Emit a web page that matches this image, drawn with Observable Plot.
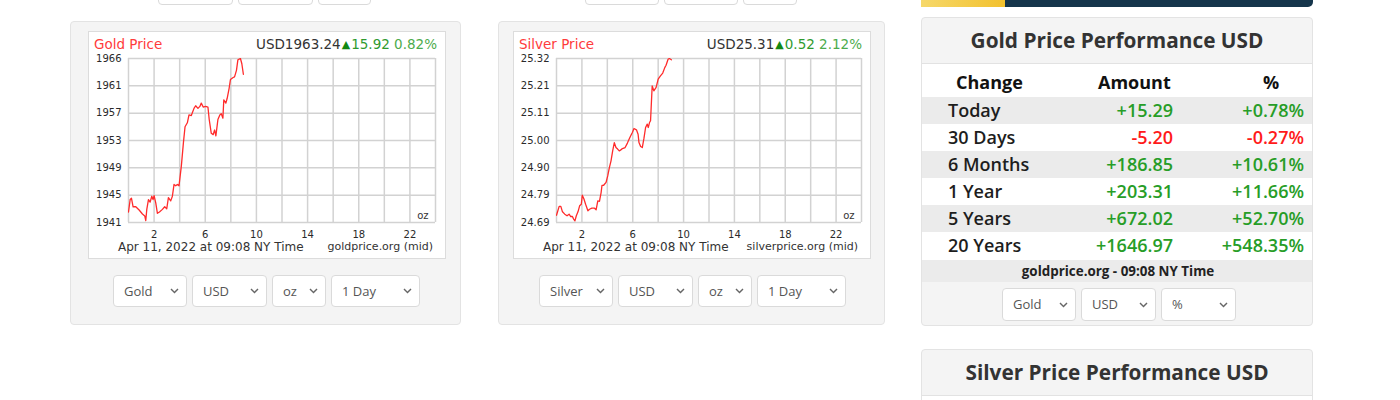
<!DOCTYPE html>
<html><head><meta charset="utf-8">
<script src="https://cdn.jsdelivr.net/npm/d3@7"></script>
<script src="https://cdn.jsdelivr.net/npm/@observablehq/plot@0.6"></script>
<style>
html,body{margin:0;padding:0;background:#fff}
body{font-family:"Open Sans",sans-serif;width:1400px;height:400px;overflow:hidden;position:relative}
.abs{position:absolute;white-space:nowrap}
.panel{position:absolute;background:#f4f4f4;border:1px solid #e3e3e3;border-radius:4px;box-sizing:border-box}
.sel{position:absolute;background:#fff;border:1px solid #dadada;border-radius:4px;box-sizing:border-box;font-size:13px;color:#555}
.sel span{position:absolute;left:10px;top:0}
.sel svg{position:absolute;right:7px}
.chartbox{position:absolute;background:#fff;box-shadow:0 0 0 1px #dcdcdc;width:356px;height:226px}
.chartbox svg.plot{position:absolute;left:0;top:0}
.ct{position:absolute;white-space:nowrap;font-family:"DejaVu Sans",Verdana,sans-serif;line-height:16px}
.row{position:absolute;left:0;width:392px;height:27px;line-height:27px;font-size:18px;font-weight:600;color:#1d1d1d}
.row .c{position:absolute;white-space:nowrap}
</style></head>
<body>
<script>
// ---------- data ----------
const goldHours = [0,0.13,0.23,0.36,0.57,0.83,1.09,1.27,1.35,1.43,1.56,1.69,1.82,1.92,2.0,2.13,2.26,2.42,2.65,2.83,2.99,3.12,3.30,3.43,3.56,3.69,3.82,3.95,4.13,4.29,4.42,4.6,4.73,4.91,5.12,5.25,5.43,5.58,5.69,5.84,6.03,6.21,6.31,6.47,6.62,6.73,6.83,6.99,7.14,7.25,7.38,7.45,7.61,7.71,7.87,7.97,8.18,8.29,8.44,8.55,8.75,8.86,8.98];
const goldPrices = [1942.6,1944.5,1944.7,1943.4,1943.4,1942.9,1942.3,1942.0,1941.3,1943.0,1944.5,1944.1,1945.0,1944.5,1945.1,1944.0,1942.4,1942.6,1943.0,1943.4,1943.1,1944.8,1944.3,1945.0,1946.8,1946.6,1946.8,1946.6,1949.6,1953.1,1955.6,1956.2,1957.4,1957.3,1958.4,1958.8,1958.4,1958.7,1959.2,1958.6,1958.7,1958.6,1956.7,1954.6,1954.4,1955.1,1954.2,1956.7,1957.4,1957.6,1956.9,1959.7,1959.2,1959.9,1961.5,1962.8,1963.1,1963.2,1964.2,1965.8,1966.0,1965.2,1963.6];
const silverHours = [0,0.21,0.34,0.47,0.65,0.83,0.99,1.12,1.25,1.35,1.45,1.56,1.69,1.82,1.95,2.03,2.16,2.29,2.47,2.6,2.78,2.99,3.12,3.25,3.38,3.51,3.58,3.71,3.90,4.03,4.16,4.29,4.42,4.55,4.68,4.81,4.94,5.06,5.19,5.4,5.58,5.71,5.84,5.97,6.1,6.29,6.42,6.49,6.62,6.75,6.88,7.01,7.14,7.22,7.32,7.40,7.53,7.66,7.84,8.0,8.18,8.36,8.52,8.62,8.78,8.88,9.04];
const silverPrices = [24.718,24.752,24.752,24.731,24.722,24.716,24.722,24.713,24.713,24.703,24.696,24.716,24.731,24.754,24.760,24.795,24.780,24.760,24.735,24.741,24.745,24.745,24.739,24.773,24.771,24.805,24.833,24.833,24.844,24.869,24.901,24.927,24.965,24.997,24.978,24.972,24.965,24.969,24.974,24.978,24.995,25.010,25.023,25.036,25.051,25.046,25.029,24.997,24.982,24.978,25.013,25.055,25.068,25.055,25.074,25.081,25.215,25.196,25.209,25.241,25.253,25.264,25.285,25.294,25.317,25.320,25.315];

const xDomain = [0, 24];
const xTickValues = [2, 6, 10, 14, 18, 22];
const xGridValues = [0, 2, 4, 6, 8, 10, 12, 14, 16, 18, 20, 22, 24];
const goldYDomain = [1941, 1966];
const goldYTickLabels = ["1941", "1945", "1949", "1953", "1957", "1961", "1966"];
const silverYDomain = [24.69, 25.32];
const silverYTickLabels = ["24.69", "24.79", "24.90", "25.00", "25.11", "25.21", "25.32"];

const perfLabels = ["Today", "30 Days", "6 Months", "1 Year", "5 Years", "20 Years"];
const perfAmounts = ["+15.29", "-5.20", "+186.85", "+203.31", "+672.02", "+1646.97"];
const perfPercents = ["+0.78%", "-0.27%", "+10.61%", "+11.66%", "+52.70%", "+548.35%"];

// ---------- helpers ----------
function el(tag, cls, style, text) {
  const e = document.createElement(tag);
  if (cls) e.className = cls;
  if (style) e.setAttribute("style", style);
  if (text != null) e.textContent = text;
  return e;
}
function select(parent, x, y, w, h, label) {
  const s = el("div", "sel", `left:${x}px;top:${y}px;width:${w}px;height:${h}px;`);
  const sp = el("span", null, `line-height:${h - 2}px;`, label);
  s.appendChild(sp);
  const ns = "http://www.w3.org/2000/svg";
  const svg = document.createElementNS(ns, "svg");
  svg.setAttribute("width", 9); svg.setAttribute("height", 6);
  svg.style.top = ((h - 2) / 2 - 3) + "px";
  const pl = document.createElementNS(ns, "polyline");
  pl.setAttribute("points", "1,1 4.5,4.6 8,1");
  pl.setAttribute("fill", "none"); pl.setAttribute("stroke", "#666"); pl.setAttribute("stroke-width", "1.4");
  svg.appendChild(pl); s.appendChild(svg);
  parent.appendChild(s);
}

function priceChart(hours, prices, yDomain, yLabels, mLeft, mRight) {
  const data = d3.zip(hours, prices).map(([h, p]) => ({h, p}));
  const yTicks = d3.range(7).map(i => yDomain[0] + i * (yDomain[1] - yDomain[0]) / 6);
  const svg = Plot.plot({
    width: 356, height: 226,
    marginLeft: mLeft, marginRight: mRight, marginTop: 26, marginBottom: 36,
    style: {fontFamily: "'DejaVu Sans', Verdana, sans-serif", fontSize: "10px", color: "#2a2a2a", background: "transparent", overflow: "visible"},
    x: {domain: xDomain},
    y: {domain: yDomain},
    marks: [
      Plot.gridX(xGridValues, {stroke: "#d2d2d2", strokeOpacity: 1, strokeWidth: 1.5}),
      Plot.gridY(yTicks, {stroke: "#d2d2d2", strokeOpacity: 1, strokeWidth: 1.5}),
      Plot.axisX(xTickValues, {tickSize: 0, tickPadding: 8, label: null, tickFormat: d => String(d)}),
      Plot.axisY(yTicks, {tickSize: 0, tickPadding: 7, label: null, tickFormat: d => yLabels[yTicks.indexOf(d)]}),
      Plot.line(data, {x: "h", y: "p", stroke: "#ff2b2b", strokeWidth: 1.3, clip: true}),
      Plot.text(["oz"], {frameAnchor: "bottom-right", dx: -7, dy: -4, lineAnchor: "bottom", text: d => d, fill: "#333", fontSize: 10})
    ]
  });
  svg.classList.add("plot");
  return svg;
}

function chartPanel(px, pw, boxX, name, priceText, chg, pct, site, svg) {
  const panel = el("div", "panel", `left:${px}px;top:21px;width:${pw}px;height:304px;`);
  document.body.appendChild(panel);
  const box = el("div", "chartbox", `left:${boxX}px;top:32px;`);
  document.body.appendChild(box);
  box.appendChild(svg);
  box.appendChild(el("div", "ct", "left:5px;top:4px;font-size:13.5px;color:#ff3b3b;", name));
  const r = el("div", "ct", "right:8px;top:4px;font-size:13.5px;color:#333;");
  r.appendChild(el("span", null, null, priceText));
  r.appendChild(el("span", null, "color:#118811;font-size:11px;position:relative;top:-1px;margin:0 1px;", "▲"));
  r.appendChild(el("span", null, "color:#2f9a2f;", chg + " "));
  r.appendChild(el("span", null, "color:#4cab4c;", pct));
  box.appendChild(r);
  box.appendChild(el("div", "ct", "left:29px;top:207px;font-size:12px;color:#333;", "Apr 11, 2022 at 09:08 NY Time"));
  box.appendChild(el("div", "ct", "right:12px;top:207px;font-size:11px;color:#333;", site));
}

// ---------- top partial selects ----------
[[158, 75], [238, 75], [318, 53], [585, 74], [664, 74], [743, 54]].forEach(([x, w]) => {
  document.body.appendChild(el("div", "sel", `left:${x}px;top:-28px;width:${w}px;height:33px;`));
});

// ---------- gold chart ----------
chartPanel(70, 391, 89, "Gold Price", "USD1963.24", "15.92", "0.82%", "goldprice.org (mid)",
  priceChart(goldHours, goldPrices, goldYDomain, goldYTickLabels, 39, 10));
select(document.body, 113, 275, 74, 32, "Gold");
select(document.body, 192, 275, 75, 32, "USD");
select(document.body, 272, 275, 54, 32, "oz");
select(document.body, 331, 275, 89, 32, "1 Day");

// ---------- silver chart ----------
chartPanel(498, 387, 514, "Silver Price", "USD25.31", "0.52", "2.12%", "silverprice.org (mid)",
  priceChart(silverHours, silverPrices, silverYDomain, silverYTickLabels, 42, 9));
select(document.body, 539, 275, 74, 32, "Silver");
select(document.body, 618, 275, 75, 32, "USD");
select(document.body, 698, 275, 54, 32, "oz");
select(document.body, 757, 275, 89, 32, "1 Day");

// ---------- right column ----------
document.body.appendChild(el("div", "abs", "left:921px;top:0;width:84px;height:7px;background:linear-gradient(90deg,#f6d86a,#f2c12e);"));
document.body.appendChild(el("div", "abs", "left:1005px;top:0;width:308px;height:7px;background:#15354b;border-bottom-right-radius:5px;"));

const perf = el("div", "panel", "left:921px;top:17px;width:392px;height:309px;overflow:hidden;");
document.body.appendChild(perf);
perf.appendChild(el("div", "abs", "left:0;top:0;width:390px;height:45px;line-height:45px;text-align:center;font-weight:700;font-size:20.8px;color:#333;border-bottom:1px solid #e2e2e2;", "Gold Price Performance USD"));
perf.appendChild(el("div", "abs", "left:0;top:46px;width:392px;height:196px;background:#fff;"));
const hdr = el("div", "row", "top:51px;font-weight:700;color:#111;");
hdr.appendChild(el("div", "c", "left:34px;", "Change"));
hdr.appendChild(el("div", "c", "left:176px;", "Amount"));
hdr.appendChild(el("div", "c", "left:341px;", "%"));
perf.appendChild(hdr);
perfLabels.forEach((lab, i) => {
  const row = el("div", "row", `top:${79 + i * 27}px;background:${i % 2 === 0 ? "#ebebeb" : "#fff"};`);
  const col = v => v.startsWith("-") ? "#ff1a1a" : "#279d27";
  row.appendChild(el("div", "c", "left:26px;", lab));
  row.appendChild(el("div", "c", `right:${392 - 251}px;color:${col(perfAmounts[i])};`, perfAmounts[i]));
  row.appendChild(el("div", "c", `right:10px;color:${col(perfPercents[i])};`, perfPercents[i]));
  perf.appendChild(row);
});
perf.appendChild(el("div", "abs", "left:0;top:242px;width:392px;height:22px;line-height:22px;background:#ebebeb;text-align:center;font-weight:700;font-size:13.4px;color:#222;", "goldprice.org - 09:08 NY Time"));
select(perf, 80, 270, 74, 33, "Gold");
select(perf, 159, 270, 75, 33, "USD");
select(perf, 239, 270, 75, 33, "%");

const sperf = el("div", "panel", "left:921px;top:349px;width:392px;height:120px;overflow:hidden;");
document.body.appendChild(sperf);
sperf.appendChild(el("div", "abs", "left:0;top:0;width:390px;height:45px;line-height:45px;text-align:center;font-weight:700;font-size:20.8px;color:#333;border-bottom:1px solid #e2e2e2;", "Silver Price Performance USD"));
sperf.appendChild(el("div", "abs", "left:0;top:46px;width:392px;height:80px;background:#fff;"));
</script>
</body></html>
